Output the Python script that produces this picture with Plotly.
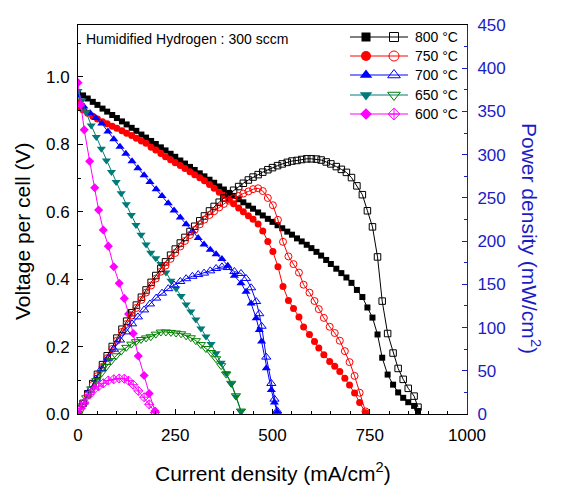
import plotly.graph_objects as go

# ---------------- data ----------------
temps = ["800 °C", "750 °C", "700 °C", "650 °C", "600 °C"]

i_800 = [0, 13, 25, 38, 50, 63, 75, 88, 100, 113, 125, 138, 150, 163, 175, 188, 200, 213, 225, 238,
         250, 263, 275, 288, 300, 313, 325, 338, 350, 363, 375, 388, 400, 413, 425, 438, 450, 463, 475, 488,
         500, 513, 525, 538, 550, 563, 575, 588, 600, 613, 625, 638, 650, 664, 677, 690, 703, 717, 731, 744,
         757, 770, 782, 796, 810, 823, 836, 849, 864, 874]
v_800 = [0.955, 0.945, 0.936, 0.926, 0.917, 0.906, 0.897, 0.887, 0.878, 0.868, 0.859, 0.849, 0.840, 0.829, 0.820,
         0.810, 0.801, 0.791, 0.782, 0.772, 0.763, 0.752, 0.743, 0.733, 0.724, 0.714, 0.705, 0.695, 0.686, 0.675,
         0.666, 0.656, 0.647, 0.637, 0.628, 0.618, 0.609, 0.598, 0.589, 0.579, 0.570, 0.560, 0.551, 0.541, 0.532,
         0.521, 0.512, 0.502, 0.492, 0.481, 0.470, 0.457, 0.445, 0.431, 0.418, 0.405, 0.389, 0.368, 0.347, 0.316,
         0.286, 0.236, 0.167, 0.117, 0.087, 0.064, 0.048, 0.035, 0.024, 0.009]
p_800 = [0, 12.3, 23.4, 35.2, 45.9, 57.1, 67.3, 78.1, 87.8, 98.1, 107.4, 117.2, 126.0, 135.1, 143.5, 152.3, 160.2,
         168.5, 176.0, 183.7, 190.8, 197.8, 204.3, 211.1, 217.2, 223.5, 229.1, 234.9, 240.1, 245.0, 249.8, 254.5,
         258.8, 263.1, 266.9, 270.7, 274.1, 276.9, 279.8, 282.6, 285.0, 287.3, 289.3, 291.1, 292.6, 293.3, 294.4,
         295.2, 295.2, 294.9, 293.8, 291.6, 289.3, 286.2, 283.0, 279.5, 273.5, 263.9, 253.7, 235.1, 216.5, 181.7,
         130.6, 93.1, 70.5, 52.7, 40.1, 29.7, 20.7, 7.9]

i_750 = [0, 5, 13, 25, 38, 50, 63, 75, 88, 100, 113, 125, 138, 150, 163, 175, 188, 200, 213, 225, 238, 250, 263,
         275, 288, 300, 313, 325, 338, 350, 363, 375, 388, 400, 413, 425, 438, 450, 463, 475, 488, 501, 514, 527,
         541, 554, 568, 580, 595, 608, 619, 632, 647, 660, 673, 686, 698, 711, 724, 739]
v_750 = [0.925, 0.912, 0.902, 0.892, 0.883, 0.875, 0.867, 0.861, 0.854, 0.848, 0.840, 0.833, 0.826, 0.818, 0.810,
         0.803, 0.791, 0.783, 0.773, 0.763, 0.754, 0.745, 0.737, 0.728, 0.719, 0.710, 0.701, 0.692, 0.681, 0.670,
         0.658, 0.648, 0.636, 0.624, 0.611, 0.600, 0.588, 0.578, 0.564, 0.543, 0.512, 0.482, 0.437, 0.378, 0.337,
         0.313, 0.288, 0.258, 0.236, 0.215, 0.196, 0.176, 0.156, 0.142, 0.126, 0.106, 0.086, 0.062, 0.034, 0.004]
p_750 = [0, 4.6, 11.7, 22.3, 33.6, 43.8, 54.6, 64.6, 75.2, 84.8, 94.9, 104.1, 114.0, 122.7, 132.0, 140.5, 148.7,
         156.6, 164.6, 171.7, 179.5, 186.3, 193.8, 200.2, 207.1, 213.0, 219.4, 224.9, 230.2, 234.5, 238.9, 243.0,
         246.8, 249.6, 252.3, 255.0, 257.5, 260.1, 261.1, 257.9, 249.9, 241.5, 224.6, 199.2, 182.3, 173.4, 163.6,
         149.6, 140.4, 130.7, 121.3, 111.2, 100.9, 93.7, 84.8, 72.7, 60.0, 44.1, 24.6, 3.0]

i_700 = [0, 15, 31, 46, 61, 77, 92, 108, 123, 139, 154, 170, 185, 201, 216, 232, 247, 263, 278, 294, 309, 324,
         340, 355, 370, 385, 402, 419, 432, 445, 458, 466, 472, 484, 497, 505, 512]
v_700 = [0.945, 0.912, 0.893, 0.878, 0.862, 0.838, 0.815, 0.793, 0.772, 0.750, 0.729, 0.708, 0.688, 0.667, 0.647,
         0.625, 0.604, 0.583, 0.563, 0.542, 0.522, 0.503, 0.487, 0.474, 0.460, 0.440, 0.410, 0.388, 0.363, 0.328,
         0.284, 0.249, 0.215, 0.136, 0.071, 0.034, 0.007]
p_700 = [0, 13.7, 27.7, 40.4, 52.6, 64.5, 75.0, 85.6, 95.0, 104.3, 112.3, 120.4, 127.3, 134.1, 139.8, 145.0, 149.2,
         153.3, 156.5, 159.3, 161.3, 163.0, 165.6, 168.3, 170.2, 169.4, 164.8, 162.6, 156.8, 146.0, 130.1, 116.0,
         101.5, 65.8, 35.3, 17.2, 3.6]

i_650 = [0, 10, 21, 34, 47, 60, 73, 86, 98, 111, 124, 137, 149, 162, 175, 187, 200, 213, 226, 239, 252, 265, 278,
         290, 303, 316, 329, 342, 355, 368, 381, 394, 406, 419]
v_650 = [0.958, 0.930, 0.895, 0.856, 0.822, 0.787, 0.752, 0.718, 0.688, 0.655, 0.622, 0.590, 0.561, 0.532, 0.503,
         0.478, 0.462, 0.445, 0.420, 0.395, 0.372, 0.350, 0.325, 0.304, 0.280, 0.254, 0.230, 0.208, 0.180, 0.152,
         0.121, 0.090, 0.052, 0.008]
p_650 = [0, 9.3, 18.8, 29.1, 38.6, 47.2, 54.9, 61.7, 67.4, 72.7, 77.1, 80.8, 83.6, 86.2, 88.0, 89.4, 92.4, 94.8,
         94.9, 94.4, 93.7, 92.8, 90.4, 88.2, 84.8, 80.3, 75.7, 71.1, 63.9, 55.9, 46.1, 35.5, 21.1, 3.4]

i_600 = [0, 7, 16, 30, 43, 53, 65, 78, 92, 106, 119, 130, 142, 155, 170, 183, 198]
v_600 = [0.983, 0.917, 0.843, 0.750, 0.671, 0.605, 0.546, 0.498, 0.437, 0.388, 0.343, 0.297, 0.239, 0.172,
         0.114, 0.061, 0.009]
p_600 = [0, 6.4, 13.5, 22.5, 28.9, 32.1, 35.5, 38.8, 40.2, 41.1, 40.8, 38.6, 33.9, 26.7, 19.4, 11.2, 1.8]

x_ticks = [0, 250, 500, 750, 1000]
y_ticks = [0.0, 0.2, 0.4, 0.6, 0.8, 1.0]
y2_ticks = [0, 50, 100, 150, 200, 250, 300, 350, 400, 450]

# ---------------- styling ----------------
FONT = "Arial, Liberation Sans, sans-serif"
BLUE_AX = "#1c1cc4"
series = [
    (i_800, v_800, p_800, "#000000", "#000000", "square", "square-open", 6, 6.5),
    (i_750, v_750, p_750, "#ff0000", "#ff0000", "circle", "circle-open", 7, 7),
    (i_700, v_700, p_700, "#0000ff", "#0000ff", "triangle-up", "triangle-up-open", 8, 8),
    (i_650, v_650, p_650, "#007b78", "#008000", "triangle-down", "triangle-down-open", 8, 8),
    (i_600, v_600, p_600, "#ff00ff", "#ff00ff", "diamond", "diamond-cross-open", 7, 7),
]

fig = go.Figure()
for (I, V, P, cf, co, sf, so, szf, szo) in series:
    fig.add_trace(go.Scatter(x=I, y=P, yaxis="y2", mode="lines+markers",
                             line=dict(color=co, width=1),
                             marker=dict(symbol=so, size=szo, color=co, line=dict(color=co, width=1)),
                             showlegend=False))
for (I, V, P, cf, co, sf, so, szf, szo) in series:
    fig.add_trace(go.Scatter(x=I, y=V, mode="lines+markers",
                             line=dict(color=cf, width=1),
                             marker=dict(symbol=sf, size=szf, color=cf, line=dict(width=0)),
                             showlegend=False))

# ---------------- page geometry (window pixels; the page body has an 8 px margin) ----------------
OFF = 8
WIN_W, WIN_H = 573, 499
PL, PR, PT, PB = 78, 467, 25, 414          # plot-area edges in window pixels
W, H = WIN_W - OFF, WIN_H - OFF
pw, ph = PR - PL, PB - PT

# ---------------- hand-made legend (pixel-space overlay axes) ----------------
leg_rows = [37, 56, 75, 95, 114]
leg_line = (350, 408)
leg_fill_x, leg_open_x, leg_text_x = 366, 394, 413
leg_sizes = [(9, 9), (10, 10), (11, 11), (11, 11), (9, 9)]
for k, (I, V, P, cf, co, sf, so, szf, szo) in enumerate(series):
    yy = leg_rows[k]
    fig.add_trace(go.Scatter(x=list(leg_line), y=[yy, yy], xaxis="x3", yaxis="y3", mode="lines",
                             line=dict(color=cf, width=1), showlegend=False, hoverinfo="skip"))
    fig.add_trace(go.Scatter(x=[leg_fill_x], y=[yy], xaxis="x3", yaxis="y3", mode="markers",
                             marker=dict(symbol=sf, size=leg_sizes[k][0], color=cf, line=dict(width=0)),
                             showlegend=False, hoverinfo="skip"))
    fig.add_trace(go.Scatter(x=[leg_open_x], y=[yy], xaxis="x3", yaxis="y3", mode="markers",
                             marker=dict(symbol=so, size=leg_sizes[k][1], color=co, line=dict(color=co, width=1)),
                             showlegend=False, hoverinfo="skip"))
    fig.add_annotation(x=leg_text_x, y=yy, xref="x3", yref="y3", text=temps[k], showarrow=False,
                       xanchor="left", yanchor="middle", font=dict(family=FONT, size=14, color="#000000"))


def px(x):
    return (x - PL) / pw


def py(y):
    return (PB - y) / ph


fig.add_annotation(x=px(84), y=py(39), xref="paper", yref="paper", text="Humidified Hydrogen : 300 sccm",
                   showarrow=False, xanchor="left", yanchor="middle",
                   font=dict(family=FONT, size=14, color="#000000"))
fig.add_annotation(x=px(22), y=py(232), xref="paper", yref="paper", text="Voltage per cell (V)",
                   showarrow=False, textangle=-90, xanchor="center", yanchor="middle",
                   font=dict(family=FONT, size=21, color="#000000"))
fig.add_annotation(x=px(531), y=py(238), xref="paper", yref="paper", text="Power density (mW/cm<sup>2</sup>)",
                   showarrow=False, textangle=90, xanchor="center", yanchor="middle",
                   font=dict(family=FONT, size=21, color=BLUE_AX))
fig.add_annotation(x=0.5, y=py(472), xref="paper", yref="paper", text="Current density (mA/cm<sup>2</sup>)",
                   showarrow=False, xanchor="center", yanchor="middle",
                   font=dict(family=FONT, size=21, color="#000000"))

fig.update_layout(
    width=W, height=H,
    margin=dict(l=PL - OFF, r=WIN_W - PR, t=PT - OFF, b=WIN_H - PB, pad=0, autoexpand=False),
    paper_bgcolor="white", plot_bgcolor="white",
    font=dict(family=FONT, size=17, color="#000000"),
    showlegend=False,
    xaxis=dict(range=[0, 1000], tickvals=x_ticks, ticktext=[str(v) for v in x_ticks],
               showgrid=False, zeroline=False, showline=True, linecolor="#000000", linewidth=1,
               mirror=True, ticks="inside", ticklen=5, tickcolor="#000000", automargin=False,
               minor=dict(dtick=50, tick0=0, ticks="inside", ticklen=3, tickcolor="#000000", showgrid=False),
               tickfont=dict(family=FONT, size=17, color="#000000"), ticklabelstandoff=6),
    yaxis=dict(range=[0, 1.154], tickvals=y_ticks, ticktext=[f"{v:.1f}" for v in y_ticks],
               showgrid=False, zeroline=False, showline=True, linecolor="#000000", linewidth=1,
               ticks="inside", ticklen=5, tickcolor="#000000", automargin=False,
               minor=dict(dtick=0.1, tick0=0, ticks="inside", ticklen=3, tickcolor="#000000", showgrid=False),
               tickfont=dict(family=FONT, size=17, color="#000000"), ticklabelstandoff=4),
    yaxis2=dict(range=[0, 450], tickvals=y2_ticks, ticktext=[str(v) for v in y2_ticks],
                overlaying="y", side="right", anchor="x", automargin=False,
                showgrid=False, zeroline=False, showline=True, linecolor=BLUE_AX, linewidth=1,
                ticks="inside", ticklen=5, tickcolor=BLUE_AX,
                minor=dict(dtick=25, tick0=0, ticks="inside", ticklen=3, tickcolor=BLUE_AX, showgrid=False),
                tickfont=dict(family=FONT, size=17, color=BLUE_AX), ticklabelstandoff=6),
    xaxis3=dict(range=[PL, PR], domain=[0, 1], overlaying="x", anchor="y3", visible=False, fixedrange=True),
    yaxis3=dict(range=[PB, PT], domain=[0, 1], overlaying="y", anchor="x3", visible=False, fixedrange=True),
)

fig.write_html("out.html")
